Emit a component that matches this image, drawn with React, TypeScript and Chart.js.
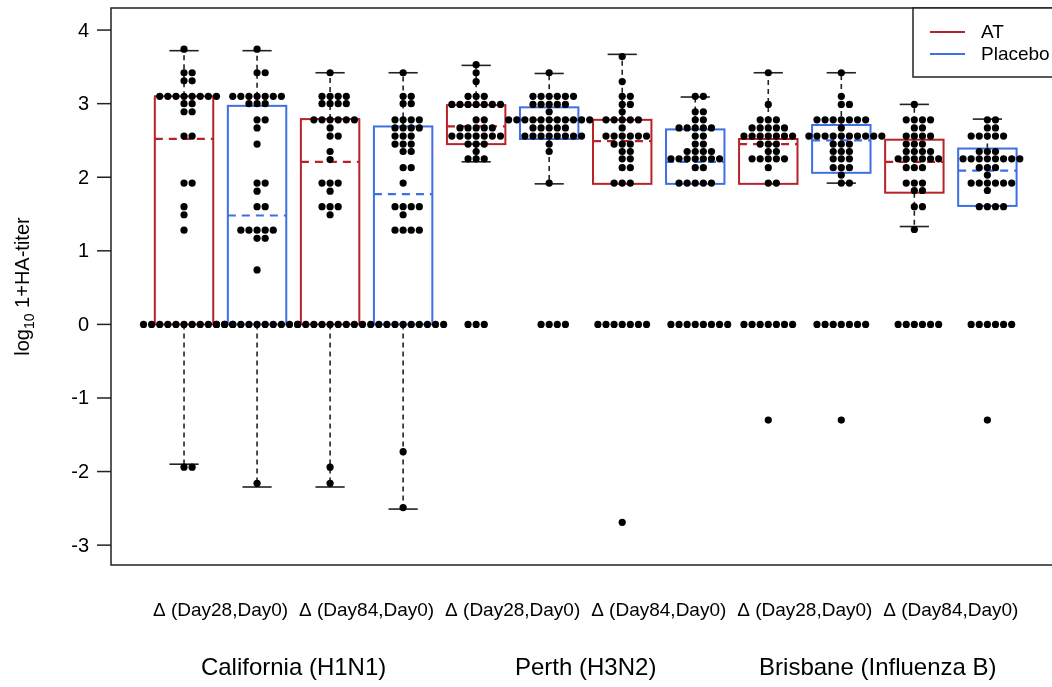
import { useEffect, useRef } from "react";
import { Chart, registerables } from "chart.js";

Chart.register(...registerables);

// ---------- labels ----------
const yTicks = [-3, -2, -1, 0, 1, 2, 3, 4];
const comparisonLabels = [
  "\u0394 (Day28,Day0)",
  "\u0394 (Day84,Day0)",
  "\u0394 (Day28,Day0)",
  "\u0394 (Day84,Day0)",
  "\u0394 (Day28,Day0)",
  "\u0394 (Day84,Day0)",
];
const strainLabels = ["California (H1N1)", "Perth (H3N2)", "Brisbane (Influenza B)"];
const treatments = ["AT", "Placebo"];
const treatmentColors = ["#B8232A", "#3F6FE4"];

// ---------- box statistics (12 boxes: AT / Placebo alternating) ----------
const q1 = [0, 0, 0, 0, 2.45, 2.52, 1.91, 1.91, 1.91, 2.06, 1.79, 1.61];
const medians = [2.52, 1.48, 2.21, 1.77, 2.69, 2.78, 2.49, 2.21, 2.45, 2.5, 2.21, 2.09];
const q3 = [3.1, 2.97, 2.79, 2.69, 2.98, 2.95, 2.78, 2.65, 2.52, 2.71, 2.51, 2.39];
const whiskerLow = [-1.9, -2.21, -2.21, -2.51, 2.21, 1.91, 1.91, 1.91, 1.91, 1.92, 1.33, 1.61];
const whiskerHigh = [3.72, 3.72, 3.42, 3.42, 3.52, 3.41, 3.67, 3.09, 3.42, 3.42, 2.99, 2.79];

// ---------- individual subjects, as [value, number of subjects] ----------
const calD28AT = [[3.74, 1], [3.42, 2], [3.31, 2], [3.1, 8], [3.0, 2], [2.89, 2], [2.56, 2], [1.92, 2], [1.6, 1], [1.49, 1], [1.28, 1], [0, 12], [-1.94, 2]];
const calD28PL = [[3.74, 1], [3.42, 2], [3.1, 7], [3.0, 3], [2.78, 2], [2.67, 1], [2.45, 1], [1.92, 2], [1.81, 1], [1.6, 2], [1.28, 5], [1.17, 2], [0.74, 1], [0, 11], [-2.16, 1]];
const calD84AT = [[3.42, 1], [3.1, 4], [3.0, 4], [2.78, 6], [2.67, 1], [2.56, 2], [2.35, 1], [2.24, 1], [1.92, 3], [1.81, 1], [1.6, 3], [1.49, 1], [0, 9], [-1.94, 1], [-2.16, 1]];
const calD84PL = [[3.42, 1], [3.1, 2], [3.0, 2], [2.78, 4], [2.67, 4], [2.56, 3], [2.45, 3], [2.35, 2], [2.13, 2], [1.92, 1], [1.6, 4], [1.49, 1], [1.28, 4], [0, 10], [-1.73, 1], [-2.49, 1]];
const perD28AT = [[3.53, 1], [3.42, 1], [3.3, 1], [3.1, 3], [2.99, 7], [2.78, 2], [2.67, 5], [2.56, 7], [2.45, 3], [2.35, 1], [2.25, 3], [0, 3]];
const perD28PL = [[3.42, 1], [3.1, 6], [2.99, 5], [2.89, 1], [2.78, 11], [2.67, 5], [2.56, 8], [2.45, 1], [2.35, 1], [1.92, 1], [0, 4]];
const perD84AT = [[3.64, 1], [3.3, 1], [3.1, 2], [2.99, 2], [2.89, 1], [2.78, 5], [2.67, 1], [2.56, 6], [2.45, 3], [2.35, 2], [2.25, 2], [2.13, 2], [1.92, 3], [0, 7], [-2.69, 1]];
const perD84PL = [[3.1, 2], [2.89, 2], [2.78, 2], [2.67, 5], [2.56, 2], [2.45, 2], [2.35, 4], [2.25, 7], [2.13, 2], [1.92, 5], [0, 8]];
const briD28AT = [[3.42, 1], [2.99, 1], [2.78, 3], [2.67, 5], [2.56, 7], [2.45, 3], [2.35, 2], [2.25, 5], [2.13, 1], [1.92, 2], [0, 7], [-1.3, 1]];
const briD28PL = [[3.42, 1], [3.1, 1], [2.99, 2], [2.78, 7], [2.67, 1], [2.56, 10], [2.45, 3], [2.35, 3], [2.25, 3], [2.13, 3], [2.03, 1], [1.92, 2], [0, 7], [-1.3, 1]];
const briD84AT = [[2.99, 1], [2.78, 4], [2.67, 2], [2.56, 4], [2.45, 3], [2.35, 4], [2.25, 6], [2.13, 3], [1.92, 3], [1.82, 2], [1.6, 2], [1.29, 1], [0, 6]];
const briD84PL = [[2.78, 2], [2.67, 2], [2.56, 5], [2.35, 3], [2.25, 8], [2.13, 3], [2.03, 1], [1.92, 6], [1.82, 1], [1.6, 4], [0, 6], [-1.3, 1]];

const swarms = [calD28AT, calD28PL, calD84AT, calD84PL, perD28AT, perD28PL, perD84AT, perD84PL, briD28AT, briD28PL, briD84AT, briD84PL];

// ---------- layout ----------
const CANVAS_W = 1075;
const CANVAS_H = 687;
const X_MIN = 0;
const X_MAX = 13;
const Y_MIN = -3.27;
const Y_MAX = 4.3;
const SWARM_STEP = 0.111; // horizontal distance between neighbouring dots (x units)
const BOX_HALF = 0.4;
const CAP_HALF = 0.2;
const FONT = "'Liberation Sans', Arial, sans-serif";

function buildPoints() {
  const pts: { x: number; y: number }[] = [];
  swarms.forEach((rows, g) => {
    rows.forEach(([v, n]) => {
      const c = Math.ceil(n / 2);
      for (let i = 1; i <= n; i++) {
        pts.push({ x: g + 1 + (i - c) * SWARM_STEP, y: v });
      }
    });
  });
  return pts;
}

const boxPlugin = {
  id: "boxes",
  beforeDatasetsDraw(chart: any) {
    const { ctx } = chart;
    const xs = chart.scales.x;
    const ys = chart.scales.y;
    ctx.save();
    for (let g = 0; g < q1.length; g++) {
      const color = treatmentColors[g % 2];
      const cx = xs.getPixelForValue(g + 1);
      const bl = xs.getPixelForValue(g + 1 - BOX_HALF);
      const br = xs.getPixelForValue(g + 1 + BOX_HALF);
      const cl = xs.getPixelForValue(g + 1 - CAP_HALF);
      const cr = xs.getPixelForValue(g + 1 + CAP_HALF);
      const yq1 = ys.getPixelForValue(q1[g]);
      const yq3 = ys.getPixelForValue(q3[g]);
      const ymed = ys.getPixelForValue(medians[g]);
      const ylo = ys.getPixelForValue(whiskerLow[g]);
      const yhi = ys.getPixelForValue(whiskerHigh[g]);

      // whiskers
      ctx.strokeStyle = "#222";
      ctx.lineWidth = 1.6;
      if (whiskerHigh[g] > q3[g] + 1e-6) {
        ctx.setLineDash([5, 4]);
        ctx.beginPath();
        ctx.moveTo(cx, yq3);
        ctx.lineTo(cx, yhi);
        ctx.stroke();
        ctx.setLineDash([]);
        ctx.beginPath();
        ctx.moveTo(cl, yhi);
        ctx.lineTo(cr, yhi);
        ctx.stroke();
      }
      if (whiskerLow[g] < q1[g] - 1e-6) {
        ctx.setLineDash([5, 4]);
        ctx.beginPath();
        ctx.moveTo(cx, yq1);
        ctx.lineTo(cx, ylo);
        ctx.stroke();
        ctx.setLineDash([]);
        ctx.beginPath();
        ctx.moveTo(cl, ylo);
        ctx.lineTo(cr, ylo);
        ctx.stroke();
      }
      // box
      ctx.setLineDash([]);
      ctx.strokeStyle = color;
      ctx.lineWidth = 2;
      ctx.strokeRect(bl, yq3, br - bl, yq1 - yq3);
      // median
      ctx.setLineDash([8, 6]);
      ctx.lineWidth = 2.2;
      ctx.beginPath();
      ctx.moveTo(bl, ymed);
      ctx.lineTo(br, ymed);
      ctx.stroke();
      ctx.setLineDash([]);
    }
    ctx.restore();
  },
};

const frame = {
  id: "frame",
  afterDraw(chart: any) {
    const { ctx, chartArea } = chart;
    const xs = chart.scales.x;
    const ys = chart.scales.y;
    ctx.save();
    // plot border
    ctx.strokeStyle = "#222";
    ctx.lineWidth = 1.5;
    ctx.strokeRect(chartArea.left, chartArea.top, chartArea.right - chartArea.left, chartArea.bottom - chartArea.top);

    // y ticks and labels
    ctx.fillStyle = "#000";
    ctx.font = `20px ${FONT}`;
    ctx.textAlign = "right";
    ctx.textBaseline = "middle";
    yTicks.forEach((t) => {
      const py = ys.getPixelForValue(t);
      ctx.beginPath();
      ctx.moveTo(chartArea.left - 14, py);
      ctx.lineTo(chartArea.left, py);
      ctx.stroke();
      ctx.fillText(String(t), 89, py + 1);
    });

    // y title with subscript
    ctx.save();
    ctx.translate(29, (chartArea.top + chartArea.bottom) / 2);
    ctx.rotate(-Math.PI / 2);
    ctx.textAlign = "left";
    ctx.textBaseline = "alphabetic";
    ctx.font = `20px ${FONT}`;
    const w1 = ctx.measureText("log").width;
    const w3 = ctx.measureText(" 1+HA-titer").width;
    ctx.font = `14px ${FONT}`;
    const w2 = ctx.measureText("10").width;
    let sx = -(w1 + w2 + w3) / 2;
    ctx.font = `20px ${FONT}`;
    ctx.fillText("log", sx, 0);
    sx += w1;
    ctx.font = `14px ${FONT}`;
    ctx.fillText("10", sx, 5);
    sx += w2;
    ctx.font = `20px ${FONT}`;
    ctx.fillText(" 1+HA-titer", sx, 0);
    ctx.restore();

    // comparison labels
    ctx.textAlign = "center";
    ctx.textBaseline = "middle";
    ctx.font = `19px ${FONT}`;
    comparisonLabels.forEach((lab, i) => {
      ctx.fillText(lab, xs.getPixelForValue(2 * i + 1.5), 611);
    });
    // strain labels
    ctx.font = `24px ${FONT}`;
    strainLabels.forEach((lab, i) => {
      ctx.fillText(lab, xs.getPixelForValue(4 * i + 2.5), 668);
    });

    // legend
    const lx = 913;
    const ly = chartArea.top;
    ctx.fillStyle = "#fff";
    ctx.fillRect(lx, ly, chartArea.right - lx, 69);
    ctx.strokeStyle = "#222";
    ctx.lineWidth = 1.5;
    ctx.strokeRect(lx, ly, chartArea.right - lx, 69);
    treatments.forEach((t, i) => {
      const yy = ly + 24 + i * 22;
      ctx.strokeStyle = treatmentColors[i];
      ctx.lineWidth = 2;
      ctx.beginPath();
      ctx.moveTo(930, yy);
      ctx.lineTo(965, yy);
      ctx.stroke();
      ctx.fillStyle = "#000";
      ctx.textAlign = "left";
      ctx.font = `19px ${FONT}`;
      ctx.fillText(t, 981, yy + 1);
    });
    ctx.restore();
  },
};

export default function App() {
  const ref = useRef<HTMLCanvasElement | null>(null);
  useEffect(() => {
    if (!ref.current) return;
    const chart = new Chart(ref.current, {
      type: "scatter",
      data: {
        datasets: [
          {
            data: buildPoints(),
            pointRadius: 3.6,
            pointHoverRadius: 3.6,
            pointBackgroundColor: "#000",
            pointBorderWidth: 0,
            pointBorderColor: "#000",
          },
        ],
      },
      options: {
        animation: false,
        responsive: false,
        events: [],
        layout: {
          padding: {
            left: 111,
            top: 8,
            right: CANVAS_W - 1060.4,
            bottom: CANVAS_H - 565,
          },
        },
        scales: {
          x: { type: "linear", min: X_MIN, max: X_MAX, display: false },
          y: { type: "linear", min: Y_MIN, max: Y_MAX, display: false },
        },
        plugins: {
          legend: { display: false },
          tooltip: { enabled: false },
        },
      },
      plugins: [boxPlugin, frame],
    });
    return () => chart.destroy();
  }, []);

  return (
    <div
      style={{
        position: "fixed",
        left: 0,
        top: 0,
        width: 1052,
        height: 687,
        overflow: "hidden",
        background: "#fff",
      }}
    >
      <canvas ref={ref} width={CANVAS_W} height={CANVAS_H} style={{ width: CANVAS_W, height: CANVAS_H, display: "block" }} />
    </div>
  );
}
